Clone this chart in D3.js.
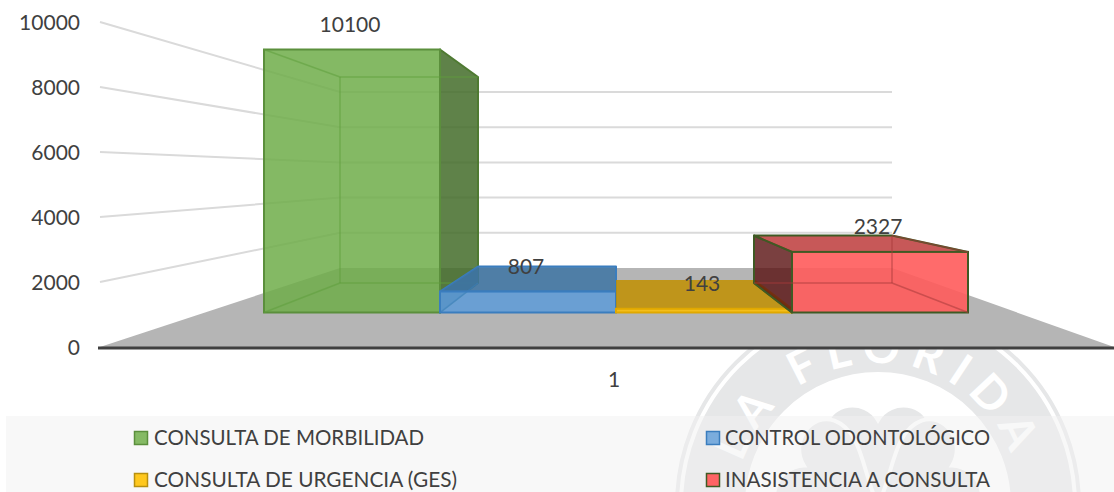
<!DOCTYPE html>
<html><head><meta charset="utf-8">
<script src="https://cdn.jsdelivr.net/npm/d3@7/dist/d3.min.js"></script>
<style>html,body{margin:0;padding:0;background:#fff;overflow:hidden}svg{display:block}text{font-family:Lato,sans-serif;fill:#404040}</style>
</head><body><svg id="c" width="1114" height="492"></svg>
<script>
const seriesNames=["CONSULTA DE MORBILIDAD","CONTROL ODONTOLÓGICO","CONSULTA DE URGENCIA (GES)","INASISTENCIA A CONSULTA"];
const seriesValues=[10100,807,143,2327];
const tickValues=[0,2000,4000,6000,8000,10000];
const categoryLabel="1";
const palette={
 front:["#6EAD49","#5D9BD8","#FFC000","#FF5B5B"],
 top:["none","#3D74A3","#C18F00","#B92E2E"],
 side:["#436C29","#3D74A3","#C18F00","#591010"],
 stroke:["#5B8F3C","#3A7DBE","#E0A800","#3F5A24"],
 topStroke:["none","#3A7DBE","none","#3F5A24"],
 inner:["#5F9E3C","#3A7DBE","#E0A800","#A83A3A"],
 swatch:["#85BA64","#7AACDD","#FFC81E","#FF6464"],
 swatchStroke:["#5B8F3C","#3A7DBE","#B8900F","#3F5A24"]
};
const W=1114,H=492,svg=d3.select("#c");
// depth-plane scales
const wallFrontY=d3.scaleLinear().domain([0,10000]).range([347,22]);
const wallBackY=d3.scaleLinear().domain([0,10000]).range([268,92]);
const barFrontY=d3.scaleLinear().domain([0,10100]).range([312.5,49.5]);
const barBackY=d3.scaleLinear().domain([0,10100]).range([283,77]);
const barFrontX=d3.scaleBand().domain(seriesNames).range([264,968]);
const barBackX=d3.scaleBand().domain(seriesNames).range([340,892]);
const poly=pts=>pts.map(p=>p.join(",")).join(" ");

// watermark
const wm=svg.append("g").attr("fill","#E6E7E8");
const cx=878,cy=505;
wm.append("circle").attr("cx",cx).attr("cy",cy).attr("r",201).attr("fill","none").attr("stroke","#E6E7E8").attr("stroke-width",4);
wm.append("circle").attr("cx",cx).attr("cy",cy).attr("r",164).attr("fill","none").attr("stroke","#E6E7E8").attr("stroke-width",62);
const heart="M0,0 C-20,-28 -58,-48 -54,-78 C-51,-102 -14,-108 0,-84 C14,-108 51,-102 54,-78 C58,-48 20,-28 0,0Z";
[[0,0,-5,.95],[-62,0,0,1],[62,0,0,1]].forEach(([r,dx,dy,k])=>{
  wm.append("path").attr("d",heart).attr("transform",`translate(${cx+dx},${cy+dy}) rotate(${r}) scale(${k})`).attr("stroke","#fff").attr("stroke-width",4);
});
const defs=svg.append("defs");
defs.append("path").attr("id","arc").attr("d",`M${cx-142},${cy} A142,142 0 0 1 ${cx+142},${cy}`);
svg.append("text").attr("font-size",46).attr("font-weight",700).attr("letter-spacing",10).style("fill","#fff")
  .append("textPath").attr("href","#arc").attr("startOffset","50%").attr("text-anchor","middle").text("LA FLORIDA");

// chart background covers watermark above the axis
svg.append("rect").attr("width",W).attr("height",349).attr("fill","#fff");
// legend band
svg.append("rect").attr("x",6).attr("y",416).attr("width",W-6).attr("height",H-416).attr("fill","#F2F2F2").attr("fill-opacity",0.5);

// left wall + back wall gridlines
const grid=svg.append("g").attr("fill","none").attr("stroke","#DADADA").attr("stroke-width",2);
tickValues.filter(d=>d>0).forEach(v=>{
  grid.append("polyline").attr("points",poly([[100,wallFrontY(v)],[340,wallBackY(v)],[892,wallBackY(v)]]));
});
// floor
svg.append("polygon").attr("points",poly([[100,wallFrontY(0)],[340,wallBackY(0)],[892,wallBackY(0)],[1114,wallFrontY(0)]])).attr("fill","#B5B5B5");
svg.append("line").attr("x1",98).attr("x2",1114).attr("y1",348).attr("y2",348).attr("stroke","#404040").attr("stroke-width",3);

// bars
seriesNames.forEach((name,i)=>{
  const v=seriesValues[i],g=svg.append("g");
  const xf0=barFrontX(name),xf1=xf0+barFrontX.bandwidth();
  const xb0=barBackX(name),xb1=xb0+barBackX.bandwidth();
  const fb=barFrontY(0),ft=barFrontY(v),bb=barBackY(0),bt=barBackY(v);
  const s=palette.stroke[i];
  const face=(pts,fill,op,st)=>g.append("polygon").attr("points",poly(pts)).attr("fill",fill).attr("fill-opacity",op).attr("stroke",st).attr("stroke-width",2).attr("stroke-linejoin","round");
  const inner=(a,b,op=.55,col=palette.inner[i],w=1.5)=>g.append("line").attr("x1",a[0]).attr("y1",a[1]).attr("x2",b[0]).attr("y2",b[1]).attr("stroke",col).attr("stroke-width",w).attr("stroke-opacity",op);
  if(i===0) face([[xf1,ft],[xb1,bt],[xb1,bb],[xf1,fb]],palette.side[i],.85,"#4F7A32");
  if(i===3) face([[xf0,ft],[xb0,bt],[xb0,bb],[xf0,fb]],palette.side[i],.8,s);
  face([[xf0,ft],[xf1,ft],[xb1,bt],[xb0,bt]],palette.top[i],i===3?.8:.85,palette.topStroke[i]);
  if(i===1) g.append("polygon").attr("points",poly([[xf0,fb],[xb0,bb],[xb0,bt],[xf0,ft]])).attr("fill",palette.top[i]).attr("fill-opacity",.5);
  g.append("rect").attr("x",xf0).attr("y",ft).attr("width",xf1-xf0).attr("height",fb-ft)
    .attr("fill",palette.front[i]).attr("fill-opacity",i===3?.9:.85).attr("stroke",s).attr("stroke-width",2);
  if(i===0||i===3){
    const xfIn=i===0?xf0:xf1,xbIn=i===0?xb0:xb1;
    if(i===0) inner([xb0,bt],[xb1,bt]);
    inner([xbIn,bt],[xbIn,bb]);
    inner([xb0,bb],[xb1,bb]);
    inner([xfIn,fb],[xbIn,bb]);
    inner([xfIn,ft],[xbIn,bt]);
  }
  if(i===1) inner([xf0,fb],[xb0,bb]);
  if(i===2){ inner([xf1,fb],[xb1,bb],.9,"#5A4A10",2); inner([xf1,ft],[xb1,bt],.9,"#E0A800",2); }
});

// value labels
const fs=21;
seriesNames.forEach((name,i)=>{
  svg.append("text").attr("x",barFrontX(name)+barFrontX.bandwidth()/2-2).attr("y",barFrontY(seriesValues[i])-25)
    .attr("dy","0.36em").attr("text-anchor","middle").attr("font-size",fs).text(seriesValues[i]);
});
// axis tick labels via d3 axis
const axisG=svg.append("g").attr("transform","translate(80,0.5)").call(d3.axisLeft(wallFrontY).tickValues(tickValues).tickSize(0).tickPadding(0).tickFormat(d=>String(d)));
axisG.select(".domain").remove();
axisG.selectAll("text").attr("font-size",fs).attr("font-family","Lato,sans-serif").style("fill","#404040");
svg.append("text").attr("x",614).attr("y",379).attr("dy","0.36em").attr("text-anchor","middle").attr("font-size",fs).text(categoryLabel);

// legend
const legendX=[134,706],legendY=[438,480],legendTextWidth=[270,265,303,265];
seriesNames.forEach((name,i)=>{
  const col=i%2,row=Math.floor(i/2);
  svg.append("rect").attr("x",legendX[col]+.5).attr("y",legendY[row]-6.5).attr("width",13).attr("height",13)
    .attr("fill",palette.swatch[i]).attr("stroke",palette.swatchStroke[i]).attr("stroke-width",1.5);
  svg.append("text").attr("x",legendX[col]+20-(col?1:0)).attr("y",legendY[row]-0.5).attr("dy","0.36em").attr("font-size",fs)
    .attr("textLength",legendTextWidth[i]).attr("lengthAdjust","spacingAndGlyphs").text(name);
});
</script></body></html>
